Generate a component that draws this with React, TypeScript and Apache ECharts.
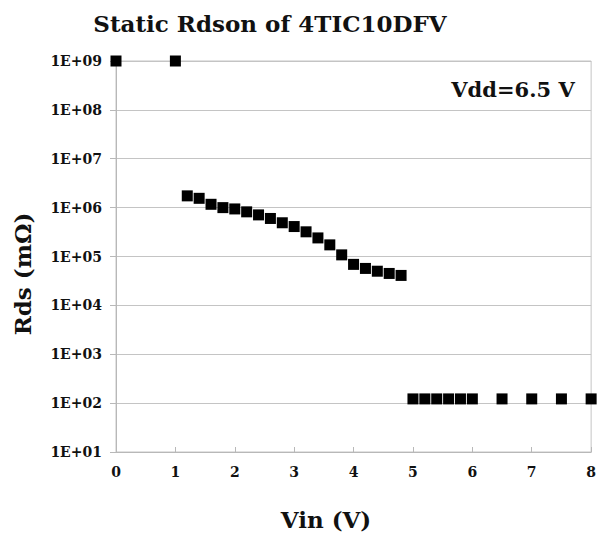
import React, { useEffect, useRef } from "react";
import * as echarts from "echarts";

const titleText = "Static Rdson of 4TIC10DFV";
const xName = "Vin (V)";
const yName = "Rds (mΩ)";
const note = "Vdd=6.5 V";

const vin = [
  0, 1,
  1.2, 1.4, 1.6, 1.8, 2.0, 2.2, 2.4, 2.6, 2.8, 3.0, 3.2, 3.4, 3.6, 3.8, 4.0, 4.2, 4.4, 4.6, 4.8,
  5.0, 5.2, 5.4, 5.6, 5.8, 6.0, 6.5, 7.0, 7.5, 8.0,
];
const rds = [
  1e9, 1e9,
  1.74e6, 1.55e6, 1.17e6, 1.0e6, 9.4e5, 8.2e5, 7.1e5, 6.0e5, 4.9e5, 4.1e5, 3.2e5, 2.4e5, 1.73e5, 1.08e5, 6.9e4, 5.7e4, 5.0e4, 4.5e4, 4.1e4,
  122, 122, 122, 122, 122, 122, 122, 122, 122, 122,
];

const FONT = "DejaVu Serif";

export default function App() {
  const ref = useRef<HTMLDivElement>(null);
  useEffect(() => {
    if (!ref.current) return;
    const chart = echarts.init(ref.current, null, { renderer: "svg" });
    const data = vin.map((x, i) => [x, rds[i]]);
    chart.setOption({
      animation: false,
      backgroundColor: "#ffffff",
      textStyle: { fontFamily: FONT },
      grid: {
        left: 116,
        right: 6,
        top: 61,
        bottom: 83,
        show: true,
        borderColor: "#c4c4c4",
        borderWidth: 1,
      },
      xAxis: {
        type: "value",
        min: 0,
        max: 8,
        interval: 1,
        axisLine: { show: true, lineStyle: { color: "#b8b8b8" } },
        axisTick: { show: true, inside: true, length: 5, lineStyle: { color: "#b8b8b8" } },
        splitLine: { show: false },
        axisLabel: {
          margin: 13,
          color: "#111",
          fontFamily: FONT,
          fontWeight: "bold",
          fontSize: 14,
        },
      },
      yAxis: {
        type: "log",
        logBase: 10,
        min: 10,
        max: 1e9,
        splitNumber: 8,
        axisLine: { show: true, lineStyle: { color: "#b8b8b8" } },
        axisTick: { show: true, length: 6, lineStyle: { color: "#b8b8b8" } },
        splitLine: { show: true, lineStyle: { color: "#c4c4c4", width: 1 } },
        minorTick: { show: false },
        axisLabel: {
          margin: 14,
          color: "#111",
          fontFamily: FONT,
          fontWeight: "bold",
          fontSize: 14,
          formatter: (v: number) => {
            const e = Math.round(Math.log10(v));
            return "1E+" + String(e).padStart(2, "0");
          },
        },
      },
      series: [
        {
          type: "scatter",
          data,
          symbol: "rect",
          symbolSize: 11,
          clip: false,
          itemStyle: { color: "#000", opacity: 1 },
        },
      ],
      graphic: [
        {
          type: "text",
          x: 270,
          y: 23,
          style: {
            text: titleText,
            fontFamily: FONT,
            fontWeight: "bold",
            fontSize: 23,
            fill: "#111",
            textAlign: "center",
            textVerticalAlign: "middle",
          },
        },
        {
          type: "text",
          x: 513,
          y: 89,
          style: {
            text: note,
            fontFamily: FONT,
            fontWeight: "bold",
            fontSize: 21,
            fill: "#111",
            textAlign: "center",
            textVerticalAlign: "middle",
          },
        },
        {
          type: "text",
          x: 326,
          y: 519,
          style: {
            text: xName,
            fontFamily: FONT,
            fontWeight: "bold",
            fontSize: 23,
            fill: "#111",
            textAlign: "center",
            textVerticalAlign: "middle",
          },
        },
        {
          type: "text",
          x: 22,
          y: 274,
          rotation: Math.PI / 2,
          style: {
            text: yName,
            fontFamily: FONT,
            fontWeight: "bold",
            fontSize: 23,
            fill: "#111",
            textAlign: "center",
            textVerticalAlign: "middle",
          },
        },
      ],
    });
    return () => chart.dispose();
  }, []);
  return (
    <div
      ref={ref}
      style={{ position: "fixed", left: 0, top: 0, width: 599, height: 535 }}
    />
  );
}
